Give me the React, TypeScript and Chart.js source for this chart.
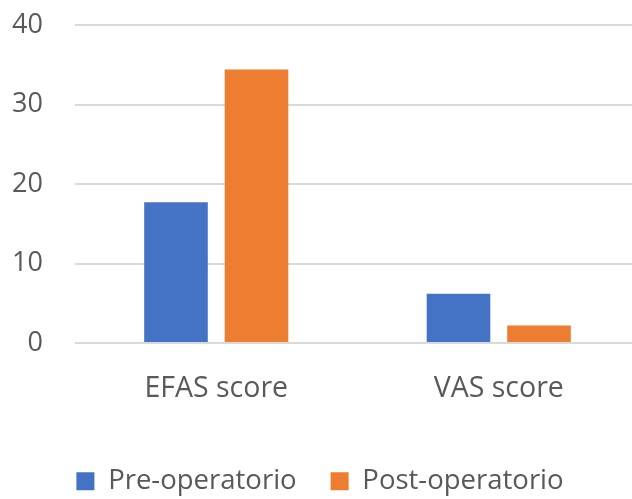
import React, { useEffect, useRef } from "react";
import { Chart, registerables } from "chart.js";

Chart.register(...registerables);

const categories = ["EFAS score", "VAS score"];
const preOperatorio = [17.7, 6.2];
const postOperatorio = [34.4, 2.2];
const seriesLabels = ["Pre-operatorio", "Post-operatorio"];
const yTicks = [0, 10, 20, 30, 40];

export default function App() {
  const ref = useRef<HTMLCanvasElement | null>(null);

  useEffect(() => {
    document.body.style.margin = "0";
    const canvas = ref.current;
    if (!canvas) return;
    const font = "'Open Sans', sans-serif";
    const chart = new Chart(canvas, {
      type: "bar",
      data: {
        labels: categories,
        datasets: [
          {
            label: seriesLabels[0],
            data: preOperatorio,
            backgroundColor: "#4472C4",
            categoryPercentage: 0.57,
            barPercentage: 0.79,
          },
          {
            label: seriesLabels[1],
            data: postOperatorio,
            backgroundColor: "#ED7D31",
            categoryPercentage: 0.57,
            barPercentage: 0.79,
          },
        ],
      },
      options: {
        responsive: false,
        animation: false,
        layout: { padding: { top: 25, right: 0, bottom: -6, left: 0 } },
        plugins: {
          tooltip: { enabled: false },
          legend: {
            position: "bottom",
            labels: {
              boxWidth: 18,
              boxHeight: 18,
              padding: 34,
              color: "#595959",
              font: { family: font, size: 27.5 },
            },
          },
        },
        scales: {
          x: {
            grid: { display: false },
            border: { display: false },
            ticks: {
              color: "#595959",
              font: { family: font, size: 28.5 },
              padding: 20.5,
            },
            afterFit: (s: any) => {
              s.height = 90.5;
              s.paddingLeft = 0;
              s.paddingRight = 0;
            },
          },
          y: {
            min: 0,
            max: 40,
            afterBuildTicks: (s: any) => {
              s.ticks = yTicks.map((v) => ({ value: v }));
            },
            grid: { color: "#d9d9d9", lineWidth: 2, drawTicks: false },
            border: { display: false },
            ticks: {
              color: "#595959",
              font: { family: font, size: 27 },
              padding: 32,
            },
            afterFit: (s: any) => {
              s.width = 75;
              s.paddingTop = 0;
              s.paddingBottom = 0;
            },
          },
        },
      },
    });
    return () => chart.destroy();
  }, []);

  return (
    <div style={{ width: 632, height: 499, overflow: "hidden" }}>
      <canvas ref={ref} width={640} height={499} style={{ display: "block" }} />
    </div>
  );
}
